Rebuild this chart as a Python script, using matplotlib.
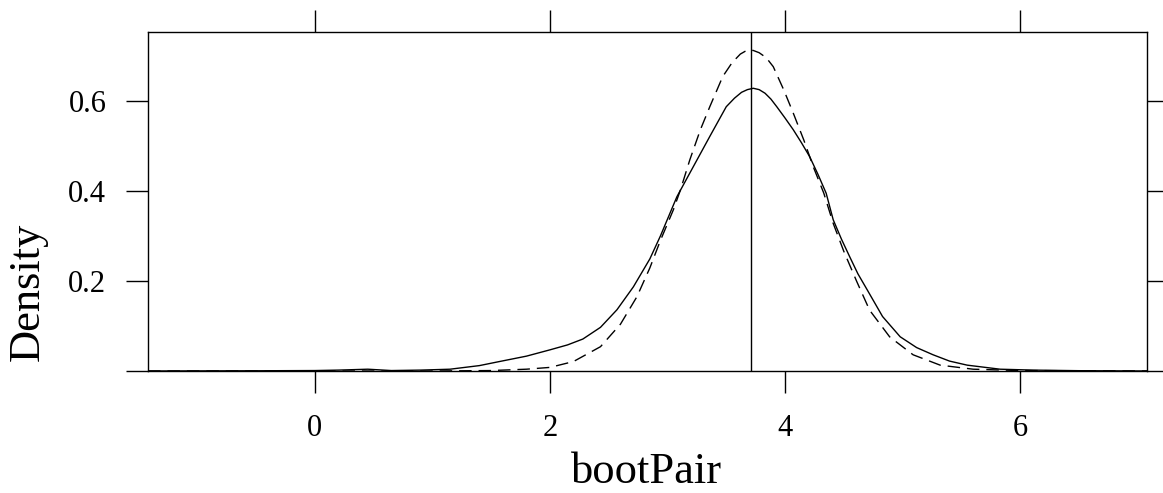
import matplotlib
matplotlib.use('Agg')
import matplotlib.pyplot as plt

plt.rcParams['font.family'] = ['Liberation Serif', 'DejaVu Serif']

# kernel density of the bootstrap statistic
kde_x = [-1.42, -0.5, 0.0, 0.2, 0.45, 0.65, 0.9, 1.15, 1.4, 1.57, 1.8, 2.0,
         2.15, 2.28, 2.43, 2.57, 2.71, 2.85, 2.94, 3.08, 3.22, 3.36, 3.50,
         3.57, 3.63, 3.68, 3.73, 3.78, 3.83, 3.88, 3.93, 4.00, 4.07, 4.14,
         4.21, 4.28, 4.35, 4.41, 4.48, 4.55, 4.62, 4.70, 4.83,
         4.98, 5.12, 5.26, 5.40, 5.55, 5.83, 6.11, 6.5, 7.08]
kde_y = [0.0, 0.0005, 0.001, 0.002, 0.004, 0.001, 0.002, 0.004, 0.012, 0.021,
         0.033, 0.047, 0.058, 0.071, 0.097, 0.136, 0.187, 0.249, 0.300, 0.387,
         0.454, 0.521, 0.587, 0.606, 0.619, 0.625, 0.628, 0.625, 0.617, 0.604,
         0.587, 0.562, 0.536, 0.507, 0.476, 0.437, 0.395, 0.336, 0.293,
         0.254, 0.216, 0.180, 0.121, 0.076, 0.052, 0.036, 0.022, 0.013, 0.004,
         0.002, 0.0007, 0.0]

# normal reference density
norm_x = [-1.42, 1.0, 1.5, 1.8, 2.0, 2.2, 2.43, 2.6, 2.74, 2.85, 2.94, 3.05,
          3.11, 3.19, 3.28, 3.36, 3.47, 3.55, 3.62, 3.66, 3.69, 3.73, 3.78,
          3.84, 3.90, 3.99, 4.07, 4.16, 4.24, 4.33, 4.41, 4.50, 4.61, 4.72,
          4.89, 5.09, 5.32, 5.60, 6.0, 7.08]
norm_y = [0.0, 0.0, 0.001, 0.004, 0.008, 0.021, 0.054, 0.104, 0.165, 0.229,
          0.290, 0.358, 0.402, 0.469, 0.536, 0.587, 0.654, 0.685, 0.704, 0.710,
          0.713, 0.712, 0.707, 0.696, 0.676, 0.624, 0.573, 0.513, 0.454,
          0.395, 0.328, 0.266, 0.199, 0.135, 0.076, 0.036, 0.013, 0.004,
          0.001, 0.0]

observed = 3.71

x_ticks = [0, 2, 4, 6]
y_ticks = [0.0, 0.2, 0.4, 0.6]
y_labels = ['', '0.2', '0.4', '0.6']

fig = plt.figure(figsize=(11.63, 4.93), dpi=100)
ax = fig.add_axes([148 / 1163, 122 / 493, 999 / 1163, 339 / 493])

ax.plot(kde_x, kde_y, color='black', lw=1.0)
ax.plot(norm_x, norm_y, color='black', lw=1.0, dashes=[9, 5])
ax.axvline(observed, color='black', lw=1.0)

ax.set_xlim(-1.42, 7.08)
ax.set_ylim(0, 0.753)

ax.set_xticks(x_ticks)
ax.set_xticklabels([str(t) for t in x_ticks])
ax.set_yticks(y_ticks)
ax.set_yticklabels(y_labels)

ax.tick_params(axis='both', direction='out', length=16, width=1.0,
               labelsize=22, color='black')
ax.tick_params(axis='x', top=True, labeltop=False, pad=15)
ax.tick_params(axis='y', right=True, labelright=False, pad=14)
for side in ax.spines.values():
    side.set_linewidth(1.0)

fig.text(28 / 1163, 201 / 493, 'Density', rotation=90, fontsize=32,
         ha='center', va='center')
fig.text(647 / 1163, 1 / 493, 'bootPair', fontsize=32,
         ha='center', va='bottom')

fig.savefig('out.png', dpi=100)
